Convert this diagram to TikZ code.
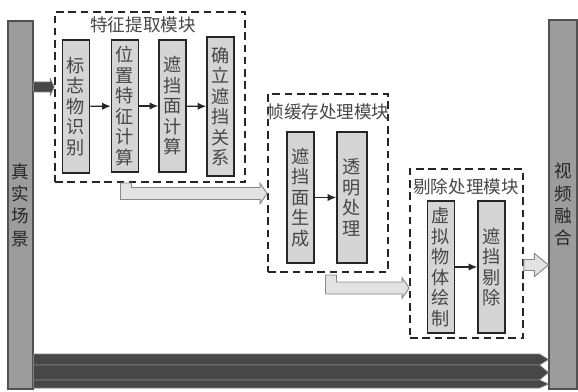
\documentclass[tikz,border=0pt]{standalone}
\usepackage{fontspec}
\newfontfamily\cjk{Noto Sans CJK SC}
\usetikzlibrary{positioning, arrows.meta, fit, calc}
\definecolor{ink}{HTML}{262626}
\definecolor{bar}{HTML}{9c9c9c}
\definecolor{cell}{HTML}{d5d5d5}
\definecolor{pipe}{HTML}{474747}
\definecolor{hollow}{HTML}{e3e3e3}

\newcommand\flatarrow[6]{%
  \filldraw[#6] ($(#1)+(0,-#3)$) -- ($(#2)+(-#5,-#3)$) -- ($(#2)+(-#5,-#4)$) -- (#2)
    -- ($(#2)+(-#5,#4)$) -- ($(#2)+(-#5,#3)$) -- ($(#1)+(0,#3)$) -- cycle;}
\newcommand\bentarrow[3]{%
  \coordinate (bend) at (#1 |- #2);
  \filldraw[#3] ($(#1)+(-5.5,0)$) -- ($(bend)+(-5.5,6)$) -- ($(#2)+(-7,6)$) -- ($(#2)+(-7,10)$)
    -- (#2) -- ($(#2)+(-7,-10)$) -- ($(#2)+(-7,-6)$) -- ($(bend)+(5.5,-6)$) -- ($(#1)+(5.5,0)$) -- cycle;}

\begin{document}
\begin{tikzpicture}[x=0.3mm, y=-0.3mm,
  stage/.style={draw=ink, line width=1.3pt, fill=cell, minimum width=8.1mm, inner sep=0pt, align=center, text=ink!85, font=\cjk\fontsize{15.5}{17.5}\selectfont},
  sidebar/.style={draw=ink!80, line width=1pt, fill=bar, inner sep=0pt, align=center, text=ink, font=\cjk\fontsize{15}{19}\selectfont},
  module/.style={draw=ink, line width=1.4pt, dash pattern=on 6.5pt off 4pt, inner sep=0pt},
  title/.style={text=ink!85, inner sep=0pt, font=\cjk\fontsize{15}{18}\selectfont},
  flow/.style={-{Latex[length=2.6mm, width=2.2mm]}, line width=1.1pt, ink},
  pipefill/.style={fill=pipe, draw=pipe!70!white, line width=0.6pt},
  hollowfill/.style={fill=hollow, draw=ink!55, line width=0.8pt}
]
  \useasboundingbox (0,0) rectangle (578,391);

  \node[sidebar, minimum width=7.5mm, minimum height=110.4mm] (scene) at (20.5,205) {真\\实\\场\\景};
  \node[sidebar, minimum width=8.4mm, minimum height=110.7mm] (fuse) at (563,204.5) {视\\频\\融\\合};

  \node[module, fit={(55,12) (245,182)}] (fbox) {};
  \node[title] (ftitle) at (143,25) {特征提取模块};
  \node[module, fit={(268,94) (388,272)}] (bbox) {};
  \node[title] (btitle) at (328,112) {帧缓存处理模块};
  \node[module, fit={(410,169) (523,338)}] (cbox) {};
  \node[title] (ctitle) at (466,187) {剔除处理模块};

  \node[stage, minimum height=39.9mm] (mark) at (76,106.5) {标\\志\\物\\识\\别};
  \node[stage, minimum height=39.6mm] (pos) at (125,106) {位\\置\\特\\征\\计\\算};
  \node[stage, minimum height=39.6mm] (face) at (172.5,106) {遮\\挡\\面\\计\\算};
  \node[stage, minimum height=41.7mm] (rel) at (220.5,106.5) {确\\立\\遮\\挡\\关\\系};
  \node[stage, minimum height=39.3mm] (gen) at (300.5,197.5) {遮\\挡\\面\\生\\成};
  \node[stage, minimum height=39.3mm, minimum width=9mm] (tran) at (352,197.5) {透\\明\\处\\理};
  \node[stage, minimum height=39.6mm] (virt) at (441,267) {虚\\拟\\物\\体\\绘\\制};
  \node[stage, minimum height=39.6mm] (cull) at (491.5,267) {遮\\挡\\剔\\除};

  \draw[flow] (mark) -- (pos);
  \draw[flow] (pos) -- (face);
  \draw[flow] (face) -- (rel);
  \draw[flow] (gen) -- (tran);
  \draw[flow] (virt) -- (cull);

  \coordinate (in0) at (scene.east |- 0,87);
  \coordinate (in1) at (fbox.west |- 0,87);
  \flatarrow{in0}{in1}{5}{8.5}{4}{pipefill}

  \coordinate (t1a) at (126,183);
  \coordinate (t1b) at (bbox.west |- 0,193.5);
  \bentarrow{t1a}{t1b}{hollowfill}
  \coordinate (t2a) at (331,275);
  \coordinate (t2b) at (cbox.west |- 0,288);
  \bentarrow{t2a}{t2b}{hollowfill}

  \coordinate (out0) at (cbox.east |- 0,265);
  \coordinate (out1) at (fuse.west |- 0,265);
  \flatarrow{out0}{out1}{5.5}{11.5}{14}{hollowfill}

  \foreach \y/\h in {359.5/5.5, 372.5/7.5, 384/4}{
    \coordinate (b0) at (scene.east |- 0,\y);
    \coordinate (b1) at (fuse.west |- 0,\y);
    \flatarrow{b0}{b1}{\h}{\h}{9}{pipefill}
  }
\end{tikzpicture}
\end{document}
